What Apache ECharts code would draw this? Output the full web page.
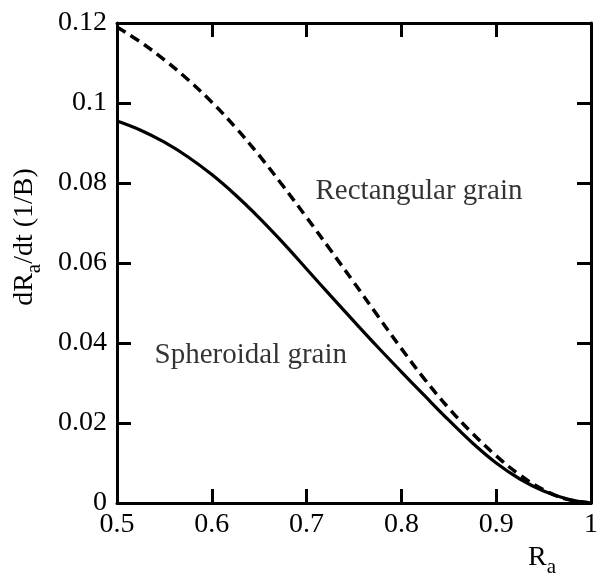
<!DOCTYPE html>
<html>
<head>
<meta charset="utf-8">
<script src="https://cdn.jsdelivr.net/npm/echarts@6/dist/echarts.min.js"></script>
<style>
html,body{margin:0;padding:0;background:#fff;}
#chart{width:601px;height:587px;}
</style>
</head>
<body>
<div id="chart"></div>
<script>
// R_a values (x)
var ra = [0.5, 0.525, 0.55, 0.575, 0.6, 0.625, 0.65, 0.675, 0.7, 0.725, 0.75, 0.775, 0.8, 0.825, 0.85, 0.875, 0.9, 0.925, 0.95, 0.975, 1.0];
// Spheroidal grain (solid)
var spheroidal = [0.0955, 0.0932, 0.0902, 0.0865, 0.0821, 0.0770, 0.0713, 0.0651, 0.0585, 0.0519, 0.0454, 0.0390, 0.0328, 0.0267, 0.0207, 0.0150, 0.0100, 0.0060, 0.0030, 0.0010, 0.0];
// Rectangular grain (dashed)
var rectangular = [0.1190, 0.1152, 0.1108, 0.1058, 0.1002, 0.0939, 0.0869, 0.0793, 0.0714, 0.0633, 0.0551, 0.0468, 0.0386, 0.0308, 0.0237, 0.0174, 0.0118, 0.0070, 0.0033, 0.0009, 0.0];
// Annotations
var annoText = ['Rectangular grain', 'Spheroidal grain'];
var annoX = [0.7094, 0.5396];
var annoY = [0.0778, 0.0368];

var FONT = '"Liberation Serif", "Times New Roman", serif';
var chart = echarts.init(document.getElementById('chart'));

function zip(xs, ys) { return xs.map(function (x, i) { return [x, ys[i]]; }); }

var axisLineStyle = { color: '#000', width: 3 };
var option = {
  animation: false,
  backgroundColor: '#fff',
  grid: { left: 117, right: 4, top: 23, bottom: 84, containLabel: false },
  xAxis: [{
    type: 'value', min: 0.5, max: 1.0, interval: 0.1, position: 'bottom',
    axisLine: { show: true, onZero: false, lineStyle: axisLineStyle },
    axisTick: { show: true, inside: true, length: 14, lineStyle: { color: '#000', width: 3 } },
    axisLabel: { color: '#000', fontFamily: FONT, fontSize: 28, margin: 8 },
    splitLine: { show: false },
    name: '{n|R}{s|a}',
    nameLocation: 'middle',
    nameGap: 26,
    nameTextStyle: {
      padding: [0, 0, 0, 376],
      rich: {
        n: { fontFamily: FONT, fontSize: 28, color: '#000', lineHeight: 40, verticalAlign: 'middle' },
        s: { fontFamily: FONT, fontSize: 21, color: '#000', lineHeight: 21, verticalAlign: 'bottom' }
      }
    }
  }, {
    type: 'value', min: 0.5, max: 1.0, interval: 0.1, position: 'top',
    axisLine: { show: true, onZero: false, lineStyle: axisLineStyle },
    axisTick: { show: true, inside: true, length: 14, lineStyle: { color: '#000', width: 3 } },
    axisLabel: { show: false },
    splitLine: { show: false }
  }],
  yAxis: [{
    type: 'value', min: 0, max: 0.12, interval: 0.02, position: 'left',
    axisLine: { show: true, onZero: false, lineStyle: axisLineStyle },
    axisTick: { show: true, inside: true, length: 14, lineStyle: { color: '#000', width: 3 } },
    axisLabel: { color: '#000', fontFamily: FONT, fontSize: 28, margin: 10 },
    splitLine: { show: false },
    name: '{n|dR}{s|a}{n|/dt (1/B)}',
    nameLocation: 'middle',
    nameGap: 72,
    nameRotate: 90,
    nameTextStyle: {
      padding: [0, 0, 0, 52],
      rich: {
        n: { fontFamily: FONT, fontSize: 28, color: '#000', lineHeight: 40, verticalAlign: 'middle' },
        s: { fontFamily: FONT, fontSize: 21, color: '#000', lineHeight: 21, verticalAlign: 'bottom' }
      }
    }
  }, {
    type: 'value', min: 0, max: 0.12, interval: 0.02, position: 'right',
    axisLine: { show: true, onZero: false, lineStyle: axisLineStyle },
    axisTick: { show: true, inside: true, length: 14, lineStyle: { color: '#000', width: 3 } },
    axisLabel: { show: false },
    splitLine: { show: false }
  }],
  series: [{
    name: 'Spheroidal grain', type: 'line', smooth: 0.4, symbol: 'none',
    data: zip(ra, spheroidal),
    lineStyle: { color: '#000', width: 3.2, type: 'solid' }
  }, {
    name: 'Rectangular grain', type: 'line', smooth: 0.4, symbol: 'none',
    data: zip(ra, rectangular),
    lineStyle: { color: '#000', width: 3.5, type: [10, 6] }
  }, {
    name: 'annotations', type: 'scatter', symbolSize: 0, silent: true,
    data: annoText.map(function (t, i) { return { value: [annoX[i], annoY[i]], name: t }; }),
    label: {
      show: true, position: 'right', distance: 0, formatter: '{b}',
      color: '#000', fontFamily: FONT, fontSize: 29, align: 'left', verticalAlign: 'middle'
    }
  }]
};
chart.setOption(option);
</script>
</body>
</html>
